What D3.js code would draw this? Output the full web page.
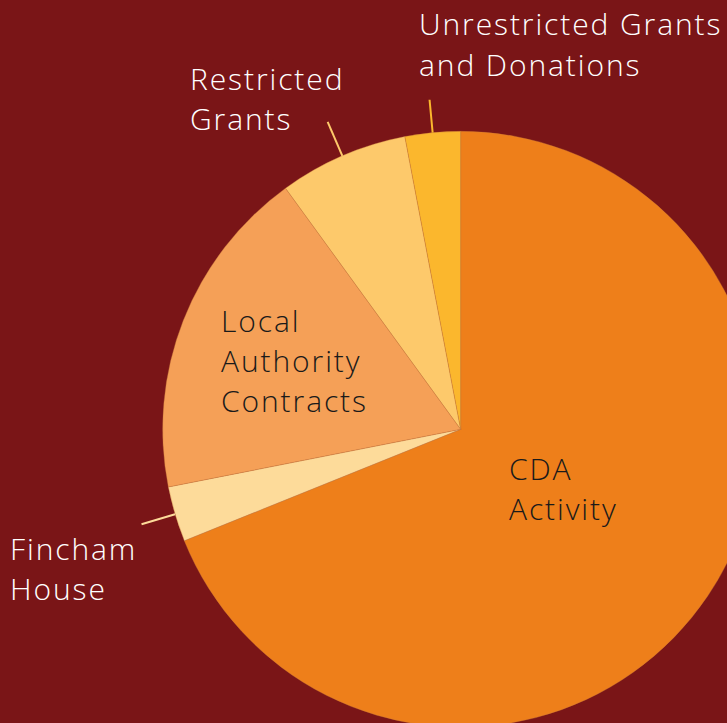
<!DOCTYPE html>
<html>
<head>
<meta charset="utf-8">
<script src="https://cdn.jsdelivr.net/npm/d3@7"></script>
<style>
  html, body { margin: 0; padding: 0; background: #7a1517; }
  svg { display: block; }
</style>
</head>
<body>
<script>
const categories = ["CDA Activity", "Fincham House", "Local Authority Contracts", "Restricted Grants", "Unrestricted Grants and Donations"];
const values = [68.9, 3.0, 18.1, 7.0, 3.0];
const labelLines = [["CDA", "Activity"], ["Fincham", "House"], ["Local", "Authority", "Contracts"], ["Restricted", "Grants"], ["Unrestricted Grants", "and Donations"]];
const colors = ["#ee7f1a", "#fddb9a", "#f5a057", "#fdc96b", "#fbb72d"];

const W = 727, H = 723;
const cx = 460.7, cy = 429.3, R = 298;

const svg = d3.select("body").append("svg").attr("width", W).attr("height", H);
svg.append("rect").attr("width", W).attr("height", H).attr("fill", "#7a1517");

const data = categories.map((c, i) => ({ name: c, value: values[i], color: colors[i], lines: labelLines[i] }));

const pie = d3.pie().value(d => d.value).sort(null);
const arcs = pie(data);
const arc = d3.arc().innerRadius(0).outerRadius(R);

const g = svg.append("g").attr("transform", `translate(${cx},${cy})`);
g.selectAll("path.slice").data(arcs).join("path")
  .attr("class", "slice")
  .attr("d", arc)
  .attr("fill", d => d.data.color)
  .attr("stroke", "#c97a3a")
  .attr("stroke-opacity", 0.6)
  .attr("stroke-width", 0.6);

// leader lines for outside labels
const leaderIdx = [1, 3, 4];
const leaderOuter = { 1: 333, 3: 335, 4: 331 };
leaderIdx.forEach(i => {
  const a = arcs[i];
  const m = (a.startAngle + a.endAngle) / 2;
  const r0 = R, r1 = leaderOuter[i];
  g.append("line")
    .attr("x1", r0 * Math.sin(m)).attr("y1", -r0 * Math.cos(m))
    .attr("x2", r1 * Math.sin(m)).attr("y2", -r1 * Math.cos(m))
    .attr("stroke", a.data.color).attr("stroke-width", 2);
});

// label placements (absolute, left x / first baseline)
const labelPos = [
  { x: 509, y: 480, fill: "#1a1a1a" },
  { x: 10, y: 560, fill: "#ffffff" },
  { x: 221, y: 332, fill: "#1a1a1a" },
  { x: 190, y: 90, fill: "#ffffff" },
  { x: 419, y: 35, fill: "#ffffff" }
];
const lineH = 40;
data.forEach((d, i) => {
  const p = labelPos[i];
  const t = svg.append("text")
    .attr("x", p.x).attr("y", p.y)
    .attr("fill", p.fill)
    .attr("font-family", "'Open Sans', Lato, sans-serif")
    .attr("font-weight", 300)
    .attr("letter-spacing", "1.9px")
    .attr("font-size", 30);
  d.lines.forEach((ln, k) => {
    t.append("tspan").attr("x", p.x).attr("y", p.y + k * (i === 4 ? 41 : lineH)).text(ln);
  });
});
</script>
</body>
</html>
